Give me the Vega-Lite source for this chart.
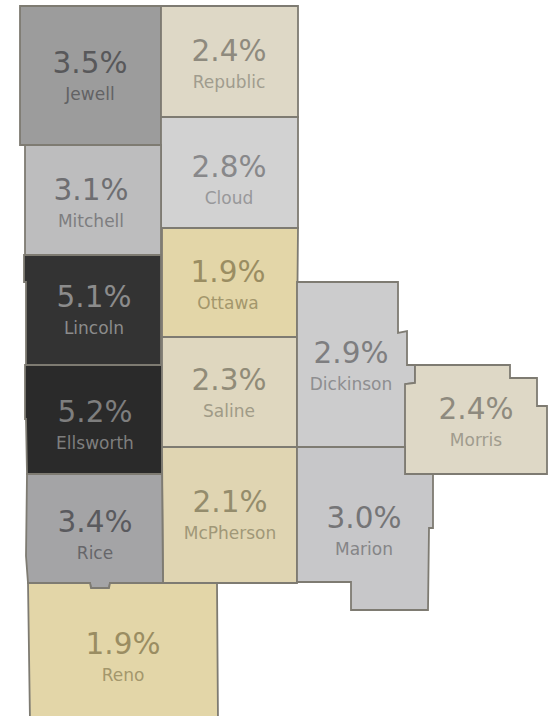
{"$schema":"https://vega.github.io/schema/vega-lite/v6.json","width":557,"height":716,"padding":0,"autosize":{"type":"none"},"background":"#ffffff","view":{"stroke":null},"projection":{"type":"identity","reflectY":true,"scale":1,"translate":[0,716]},"layer":[{"data":{"values":[
{"type":"Feature","properties":{"county":"Jewell","rate":3.5},"geometry":{"type":"Polygon","coordinates":[[[20,710],[161,710],[161,571],[20,571],[20,710]]]}},
{"type":"Feature","properties":{"county":"Republic","rate":2.4},"geometry":{"type":"Polygon","coordinates":[[[161,710],[298,710],[298,599],[161,599],[161,710]]]}},
{"type":"Feature","properties":{"county":"Cloud","rate":2.8},"geometry":{"type":"Polygon","coordinates":[[[161,599],[298,599],[298,488],[161,488],[161,599]]]}},
{"type":"Feature","properties":{"county":"Mitchell","rate":3.1},"geometry":{"type":"Polygon","coordinates":[[[25,571],[161,571],[161,461],[25,461],[25,571]]]}},
{"type":"Feature","properties":{"county":"Ottawa","rate":1.9},"geometry":{"type":"Polygon","coordinates":[[[162,488],[298,488],[297,379],[162,379],[162,488]]]}},
{"type":"Feature","properties":{"county":"Lincoln","rate":5.1},"geometry":{"type":"Polygon","coordinates":[[[24,461],[161,461],[161,351],[26,351],[26,434],[24,434],[24,461]]]}},
{"type":"Feature","properties":{"county":"Ellsworth","rate":5.2},"geometry":{"type":"Polygon","coordinates":[[[25,351],[162,351],[162,242],[27,242],[26,297],[25,297],[25,351]]]}},
{"type":"Feature","properties":{"county":"Saline","rate":2.3},"geometry":{"type":"Polygon","coordinates":[[[162,379],[297,379],[297,269],[162,269],[162,379]]]}},
{"type":"Feature","properties":{"county":"McPherson","rate":2.1},"geometry":{"type":"Polygon","coordinates":[[[162,269],[297,269],[297,133],[163,133],[162,269]]]}},
{"type":"Feature","properties":{"county":"Rice","rate":3.4},"geometry":{"type":"Polygon","coordinates":[[[27,242],[162,242],[163,133],[110,133],[109,128],[91,128],[90,133],[28,133],[26,160],[27,242]]]}},
{"type":"Feature","properties":{"county":"Reno","rate":1.9},"geometry":{"type":"Polygon","coordinates":[[[28,133],[90,133],[91,128],[109,128],[110,133],[217,133],[218,-6],[30,-6],[28,133]]]}},
{"type":"Feature","properties":{"county":"Dickinson","rate":2.9},"geometry":{"type":"Polygon","coordinates":[[[297,434],[398,434],[398,383],[407,385],[407,351],[415,351],[415,333],[406,332],[405,269],[297,269],[297,434]]]}},
{"type":"Feature","properties":{"county":"Morris","rate":2.4},"geometry":{"type":"Polygon","coordinates":[[[415,351],[510,351],[510,338],[537,338],[537,310],[547,310],[547,242],[405,242],[405,332],[415,333],[415,351]]]}},
{"type":"Feature","properties":{"county":"Marion","rate":3.0},"geometry":{"type":"Polygon","coordinates":[[[297,269],[405,269],[405,242],[433,242],[433,188],[429,188],[428,106],[351,106],[351,134],[297,134],[297,269]]]}}
]},"mark":{"type":"geoshape","stroke":"#7e7b72","strokeWidth":1.8},"encoding":{"color":{"field":"properties.rate","type":"quantitative","legend":null,"scale":{"domain":[1.9,2.1,2.4,2.8,3.0,3.1,3.4,3.5,5.1,5.2],"range":["#e3d6a8","#e0d5b2","#ded8c6","#d2d2d2","#c7c7c9","#bdbdbe","#a4a4a6","#9c9c9c","#333333","#2a2a2a"]}}}},
{"data":{"name":"labels","values":[
{"county":"Jewell","rate":3.5,"label":"3.5%","x":90,"y":654},
{"county":"Republic","rate":2.4,"label":"2.4%","x":229,"y":666},
{"county":"Cloud","rate":2.8,"label":"2.8%","x":229,"y":550},
{"county":"Mitchell","rate":3.1,"label":"3.1%","x":91,"y":527},
{"county":"Ottawa","rate":1.9,"label":"1.9%","x":228,"y":445},
{"county":"Lincoln","rate":5.1,"label":"5.1%","x":94,"y":420},
{"county":"Saline","rate":2.3,"label":"2.3%","x":229,"y":337},
{"county":"Ellsworth","rate":5.2,"label":"5.2%","x":95,"y":305},
{"county":"McPherson","rate":2.1,"label":"2.1%","x":230,"y":215},
{"county":"Rice","rate":3.4,"label":"3.4%","x":95,"y":195},
{"county":"Reno","rate":1.9,"label":"1.9%","x":123,"y":73},
{"county":"Dickinson","rate":2.9,"label":"2.9%","x":351,"y":364},
{"county":"Morris","rate":2.4,"label":"2.4%","x":476,"y":308},
{"county":"Marion","rate":3.0,"label":"3.0%","x":364,"y":199}
]},"mark":{"type":"text","font":"DejaVu Sans","fontSize":29.5,"baseline":"middle","align":"center","dy":2},"encoding":{"longitude":{"field":"x","type":"quantitative"},"latitude":{"field":"y","type":"quantitative"},"text":{"field":"label"},"color":{"field":"rate","type":"quantitative","legend":null,"scale":{"domain":[1.9,2.1,2.4,2.8,3.0,3.4,3.5,5.1,5.2],"range":["#9a8d62","#948c6c","#8e8a7e","#88888a","#757577","#5a5a5e","#58585a","#8c8c8c","#7e7e7e"]}}}},
{"data":{"name":"labels"},"mark":{"type":"text","font":"DejaVu Sans","fontSize":17,"baseline":"middle","align":"center","dy":33},"encoding":{"longitude":{"field":"x","type":"quantitative"},"latitude":{"field":"y","type":"quantitative"},"text":{"field":"county"},"color":{"field":"rate","type":"quantitative","legend":null,"scale":{"domain":[1.9,2.1,2.4,2.8,3.0,3.4,3.5,5.1,5.2],"range":["#a3976c","#a09878","#a09c8e","#98989a","#858587","#66666a","#626264","#8c8c8c","#7e7e7e"]}}}}
],"resolve":{"scale":{"color":"independent"}}}
